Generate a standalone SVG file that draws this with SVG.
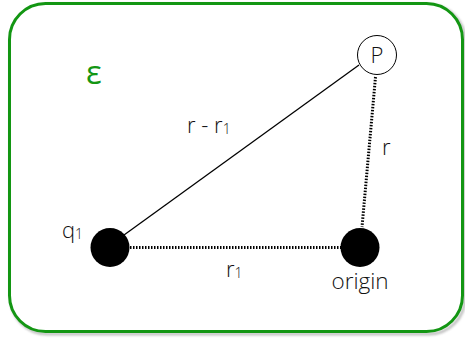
<svg xmlns="http://www.w3.org/2000/svg" width="465" height="340" viewBox="0 0 465 340">
<style>
.lbl{font-family:"Open Sans","Liberation Sans",sans-serif;font-weight:300;fill:#111}
.solid{stroke:#000;stroke-width:1.3;fill:none}
.dot{stroke:#000;stroke-width:3;stroke-dasharray:1.5 1.5;fill:none}
</style>
<defs>
<filter id="sh" x="-5%" y="-5%" width="110%" height="110%">
<feGaussianBlur stdDeviation="1.2"/>
</filter>
</defs>
<rect x="11" y="5" width="454" height="329" rx="36" fill="none" stroke="#999" stroke-width="3" filter="url(#sh)" opacity="0.6"/>
<rect x="9.5" y="3.5" width="453" height="328" rx="36" fill="#fff" stroke="#139613" stroke-width="3"/>
<text x="86" y="84" font-family="Open Sans, Liberation Sans, sans-serif" font-size="33" fill="#139613">ε</text>
<g id="connectors">
<line class="solid" x1="124" y1="235" x2="359" y2="65"/>
<line class="dot" x1="375.5" y1="77" x2="362" y2="227"/>
<line class="dot" x1="130" y1="247.5" x2="341" y2="247.5"/>
</g>
<g id="P">
<circle cx="377" cy="55" r="19.5" fill="#fff" stroke="#000" stroke-width="1"/>
<text class="lbl" x="377" y="63" font-size="22" text-anchor="middle">P</text>
</g>
<g id="q1">
<circle cx="110" cy="247.5" r="19.5" fill="#000"/>
<text class="lbl" x="62" y="238" font-size="22">q<tspan font-size="14" dy="1">1</tspan></text>
</g>
<g id="origin">
<circle cx="360" cy="247.5" r="19.5" fill="#000"/>
<text class="lbl" x="360" y="289" font-size="22.5" text-anchor="middle">origin</text>
</g>
<text class="lbl" x="187" y="133" font-size="22">r - r<tspan font-size="14" dy="1">1</tspan></text>
<text class="lbl" x="382" y="155" font-size="22">r</text>
<text class="lbl" x="226" y="277" font-size="22">r<tspan font-size="14" dy="1">1</tspan></text>
</svg>
